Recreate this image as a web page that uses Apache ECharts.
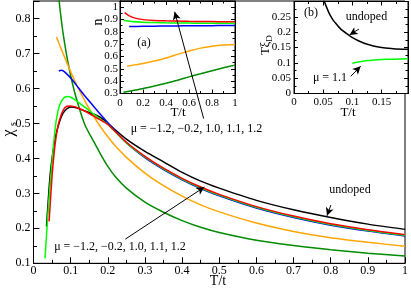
<!DOCTYPE html>
<html><head><meta charset="utf-8">
<script src="https://cdn.jsdelivr.net/npm/echarts/dist/echarts.min.js"></script>
<style>html,body{margin:0;padding:0;background:#fff}#c{width:411px;height:289px}</style>
</head><body><div id="c"></div>
<script>
// ---------- main panel: chi_s vs T/t ----------
const blackX = [0.035,0.04,0.045,0.05,0.055,0.06,0.07,0.08,0.09,0.1,0.11,0.12,0.14,0.16,0.18,0.2,0.25,0.3,0.35,0.4,0.45,0.5,0.6,0.7,0.8,0.9,1.0];
const blackY = [0.205,0.285,0.355,0.40,0.437,0.466,0.505,0.53,0.542,0.547,0.546,0.543,0.535,0.527,0.517,0.50,0.455,0.42,0.39,0.36,0.335,0.315,0.28,0.253,0.231,0.212,0.197];
const redX = [0.042,0.045,0.05,0.055,0.06,0.065,0.07,0.08,0.09,0.1,0.11,0.12,0.14,0.16,0.18,0.2,0.25,0.3,0.35,0.4,0.45,0.5,0.6,0.7,0.8,0.9,1.0];
const redY = [0.22,0.27,0.35,0.41,0.455,0.488,0.51,0.538,0.549,0.55,0.548,0.544,0.534,0.522,0.51,0.497,0.446,0.406,0.372,0.343,0.318,0.297,0.262,0.235,0.213,0.196,0.182];
const lgreenX = [0.031,0.035,0.04,0.045,0.05,0.055,0.06,0.065,0.07,0.08,0.09,0.1,0.11,0.12,0.14,0.16,0.18,0.2,0.25,0.3,0.35,0.4,0.45,0.5,0.6,0.7,0.8,0.9,1.0];
const lgreenY = [0.114,0.18,0.26,0.33,0.39,0.45,0.50,0.53,0.551,0.571,0.577,0.575,0.569,0.561,0.545,0.528,0.512,0.497,0.444,0.404,0.370,0.341,0.316,0.295,0.260,0.233,0.211,0.194,0.180];
const blueX = [0.068,0.075,0.08,0.09,0.1,0.11,0.12,0.14,0.16,0.18,0.2,0.25,0.3,0.35,0.4,0.45,0.5,0.6,0.7,0.8,0.9,1.0];
const blueY = [0.650,0.652,0.650,0.641,0.630,0.617,0.603,0.576,0.551,0.526,0.502,0.445,0.402,0.368,0.339,0.314,0.293,0.258,0.231,0.209,0.192,0.178];
const orangeX = [0.062,0.07,0.08,0.09,0.1,0.11,0.12,0.14,0.16,0.18,0.2,0.22,0.25,0.3,0.35,0.4,0.45,0.5,0.6,0.7,0.8,0.9,1.0];
const orangeY = [0.747,0.725,0.699,0.673,0.648,0.624,0.602,0.561,0.524,0.491,0.462,0.436,0.403,0.358,0.322,0.292,0.267,0.247,0.215,0.191,0.173,0.160,0.149];
const dgreenX = [0.066,0.07,0.075,0.08,0.09,0.1,0.11,0.12,0.133,0.14,0.16,0.18,0.2,0.22,0.25,0.3,0.35,0.4,0.45,0.5,0.6,0.7,0.8,0.9,1.0];
const dgreenY = [0.885,0.84,0.795,0.755,0.69,0.637,0.592,0.555,0.511,0.492,0.452,0.413,0.377,0.348,0.315,0.275,0.246,0.222,0.203,0.188,0.166,0.151,0.139,0.129,0.121];

// ---------- inset (a): n vs T/t ----------
const aRedX = [0.04,0.07,0.1,0.15,0.2,0.3,0.4,0.5,0.6,0.7,0.8,0.9,1.0];
const aRedY = [0.955,0.935,0.921,0.907,0.899,0.892,0.889,0.887,0.885,0.884,0.883,0.882,0.881];
const aGreenX = [0.03,0.1,0.2,0.3,0.4,0.5,0.6,0.7,0.8,0.9,1.0];
const aGreenY = [0.893,0.884,0.878,0.875,0.873,0.872,0.871,0.870,0.869,0.869,0.868];
const aBlueX = [0.08,0.2,0.3,0.4,0.5,0.6,0.7,0.8,0.9,1.0];
const aBlueY = [0.843,0.845,0.846,0.847,0.848,0.849,0.850,0.850,0.851,0.852];
const aOrangeX = [0.06,0.1,0.2,0.3,0.4,0.5,0.6,0.7,0.8,0.9,1.0];
const aOrangeY = [0.522,0.528,0.543,0.563,0.588,0.617,0.645,0.668,0.683,0.693,0.698];
const aDgreenX = [0.03,0.1,0.2,0.3,0.4,0.5,0.6,0.7,0.8,0.9,1.0];
const aDgreenY = [0.31,0.322,0.34,0.36,0.383,0.408,0.435,0.46,0.485,0.508,0.53];

// ---------- inset (b): T xi_D vs T/t ----------
const bBlackX = [0.05,0.052,0.056,0.06,0.065,0.07,0.08,0.094,0.1,0.11,0.12,0.13,0.14,0.15,0.17,0.195];
const bBlackY = [0.315,0.30,0.28,0.262,0.245,0.232,0.21,0.19,0.182,0.172,0.164,0.158,0.153,0.15,0.146,0.144];
const bGreenX = [0.1,0.105,0.11,0.12,0.13,0.14,0.15,0.17,0.195];
const bGreenY = [0.098,0.101,0.103,0.106,0.108,0.11,0.111,0.112,0.113];

// ---------- annotations (data coords) ----------
const muLabel = 'μ = −1.2, −0.2, 1.0, 1.1, 1.2';
const mainArrows = [[[0.247,0.169],[0.46,0.318]], [[0.458,0.514],[0.380,0.819]], [[0.8005,0.2666],[0.79,0.236]]];
const bArrows = [[[0.111,0.21],[0.095,0.191]], [[0.097,0.056],[0.114,0.089]]];

const serif = 'Liberation Serif';
const pairs = (xs, ys) => xs.map((x, i) => [x, ys[i]]);

function ax(gi, min, max, iv, pos, tl, ml, fs, margin, showLabel, showMax) {
  return {
    type: 'value', gridIndex: gi, min: min, max: max, interval: iv, position: pos,
    axisLine: {show: true, onZero: false, lineStyle: {color: '#000', width: 1}},
    axisTick: {show: true, inside: true, length: tl, lineStyle: {color: '#000', width: 1}},
    minorTick: {show: true, splitNumber: 2, length: ml, lineStyle: {color: '#000', width: 1}},
    splitLine: {show: false}, minorSplitLine: {show: false},
    axisLabel: {show: showLabel, fontFamily: serif, fontSize: fs, color: '#000', margin: margin,
                showMaxLabel: showMax, showMinLabel: true}
  };
}

function line(xi, yi, xs, ys, color) {
  return {type: 'line', xAxisIndex: xi, yAxisIndex: yi, data: pairs(xs, ys), showSymbol: false,
    smooth: 0.25, clip: true, silent: true, animation: false,
    lineStyle: {color: color, width: 1.5}};
}

function arrows(xi, yi, list) {
  return {type: 'line', xAxisIndex: xi, yAxisIndex: yi, data: [], silent: true, animation: false,
    markLine: {silent: true, animation: false, symbol: ['none', 'arrow'], symbolSize: [6, 8],
      label: {show: false}, emphasis: {disabled: true},
      lineStyle: {color: '#000', width: 1, type: 'solid'},
      data: list.map(a => [{coord: a[0]}, {coord: a[1]}])}};
}

const RED = '#ff0000', LG = '#00ff00', BLUE = '#0000ff', OR = '#ffa500', DG = '#008b00';

const option = {
  animation: false,
  backgroundColor: '#fff',
  grid: [
    {left: 33.5, top: 1, width: 374.5, height: 262.3, show: true, borderColor: '#000', borderWidth: 1, backgroundColor: '#fff'},
    {left: 120, top: 1, width: 115, height: 92.5, show: true, borderColor: '#000', borderWidth: 1, backgroundColor: '#fff'},
    {left: 294, top: 1.5, width: 114, height: 92, show: true, borderColor: '#000', borderWidth: 1, backgroundColor: '#fff'}
  ],
  xAxis: [
    ax(0, 0, 1, 0.1, 'bottom', 6, 3.5, 12, 2, true, true),
    ax(1, 0, 1, 0.2, 'bottom', 4, 2.5, 11, 4, true, true),
    ax(1, 0, 1, 0.2, 'top', 4, 2.5, 11, 4, false, true),
    ax(2, 0, 0.195, 0.05, 'bottom', 4, 2.5, 11, 3.5, true, false),
    ax(2, 0, 0.195, 0.05, 'top', 4, 2.5, 11, 3.5, false, false)
  ],
  yAxis: [
    ax(0, 0.1, 0.85, 0.1, 'left', 6, 3.5, 12, 3, true, false),
    ax(1, 0.3, 1.05, 0.1, 'left', 4, 2.5, 11, 2, true, false),
    ax(1, 0.3, 1.05, 0.1, 'right', 4, 2.5, 11, 2, false, false),
    ax(2, 0, 0.3, 0.05, 'left', 4, 2.5, 11, 3, true, false),
    ax(2, 0, 0.3, 0.05, 'right', 4, 2.5, 11, 3, false, false)
  ],
  series: [
    line(0, 0, dgreenX, dgreenY, DG),
    line(0, 0, orangeX, orangeY, OR),
    line(0, 0, blackX, blackY, '#000'),
    line(0, 0, blueX, blueY, BLUE),
    line(0, 0, lgreenX, lgreenY, LG),
    line(0, 0, redX, redY, RED),
    line(1, 1, aDgreenX, aDgreenY, DG),
    line(1, 1, aOrangeX, aOrangeY, OR),
    line(1, 1, aBlueX, aBlueY, BLUE),
    line(1, 1, aGreenX, aGreenY, LG),
    line(1, 1, aRedX, aRedY, RED),
    line(3, 3, bBlackX, bBlackY, '#000'),
    line(3, 3, bGreenX, bGreenY, LG),
    arrows(0, 0, mainArrows),
    arrows(3, 3, bArrows)
  ]
};

function txt(x, y, s, size, rot) {
  return {type: 'text', x: x, y: y, rotation: rot || 0, z: 100, silent: true,
    style: {text: s, font: size + 'px "' + serif + '"', fill: '#000', align: 'center', verticalAlign: 'middle'}};
}
const R = Math.PI / 2;
option.graphic = [
  txt(120, 247, muLabel, 12),
  txt(196.5, 129, muLabel, 12),
  txt(350, 190, 'undoped', 12),
  txt(144, 43, '(a)', 12),
  txt(311, 13, '(b)', 12),
  txt(366.5, 17, 'undoped', 12),
  txt(330, 78, 'μ = 1.1', 12),
  txt(218, 281, 'T/t', 14),
  txt(178, 113, 'T/t', 13),
  txt(348, 113, 'T/t', 13),
  txt(98, 22, 'n', 14, R),
  txt(9, 133, 'χ', 16, R),
  txt(13.5, 124, 's', 10, R),
  txt(266, 51, 'T', 13, R),
  txt(266, 44.5, 'ξ', 13, R),
  txt(269.5, 38.5, 'D', 9, R)
];

const chart = echarts.init(document.getElementById('c'), null, {renderer: 'canvas'});
chart.setOption(option);
</script>
</body></html>
